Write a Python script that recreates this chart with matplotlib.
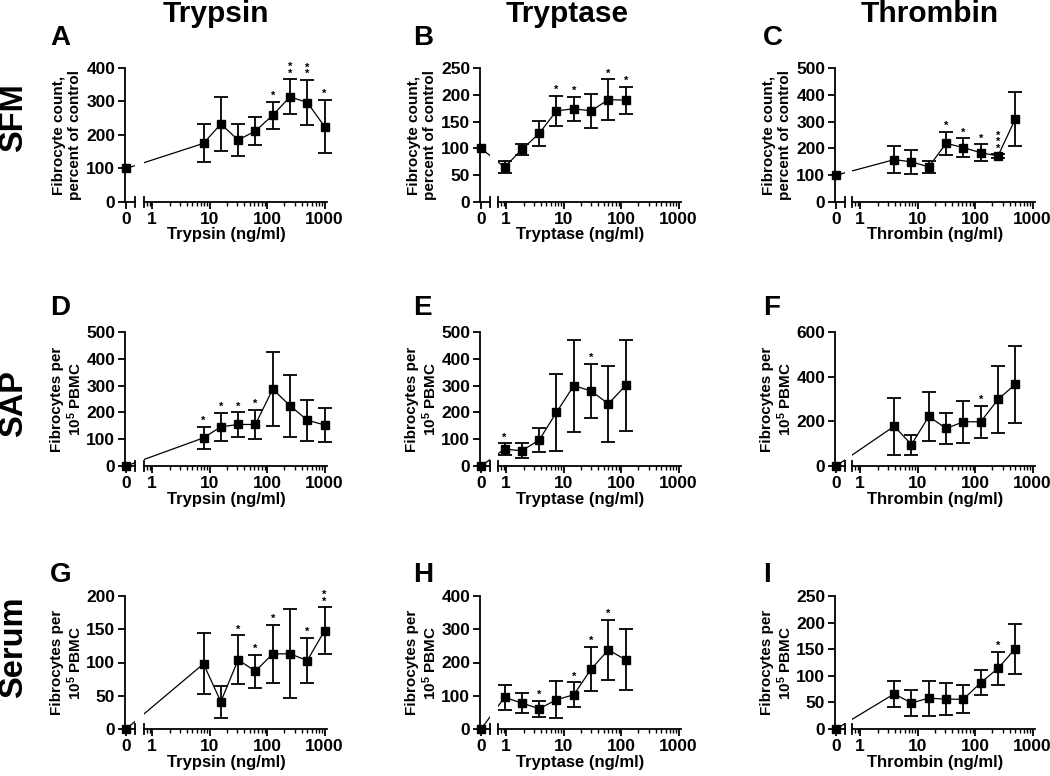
import numpy as np
import matplotlib
matplotlib.use("Agg")
import matplotlib.pyplot as plt
from matplotlib.ticker import FixedLocator, NullFormatter

plt.rcParams['font.family'] = ['Liberation Sans', 'DejaVu Sans']
plt.rcParams['font.weight'] = 'bold'
plt.rcParams['mathtext.fontset'] = 'custom'
plt.rcParams['mathtext.rm'] = 'Liberation Sans:bold'
plt.rcParams['mathtext.it'] = 'Liberation Sans:bold'
plt.rcParams['mathtext.bf'] = 'Liberation Sans:bold'

# ---------------- data ----------------
col_titles = ["Trypsin", "Tryptase", "Thrombin"]
row_titles = ["SFM", "SAP", "Serum"]
panel_letters = [["A", "B", "C"], ["D", "E", "F"], ["G", "H", "I"]]
x_labels = ["Trypsin (ng/ml)", "Tryptase (ng/ml)", "Thrombin (ng/ml)"]
y_labels = ["Fibrocyte count,\npercent of control",
            "Fibrocytes per\n10$^{5}$ PBMC",
            "Fibrocytes per\n10$^{5}$ PBMC"]

trypsin_conc = [7.8125, 15.625, 31.25, 62.5, 125, 250, 500, 1000]
tryptase_conc = [0.9375, 1.875, 3.75, 7.5, 15, 30, 60, 120]
thrombin_conc = [3.9, 7.8, 15.6, 31.25, 62.5, 125, 250, 500]
log_tick_labels = ["1", "10", "100", "1000"]

# SFM row (percent of control)
sfm_zero = [100, 100, 100]
sfm_trypsin_mean = [175, 233, 185, 212, 259, 314, 297, 225]
sfm_trypsin_sem = [57, 81, 47, 41, 40, 52, 68, 80]
sfm_trypsin_stars = ["", "", "", "", "*", "**", "**", "*"]
sfm_tryptase_mean = [65, 98, 128, 170, 174, 170, 191, 190]
sfm_tryptase_sem = [11, 11, 24, 28, 22, 32, 38, 25]
sfm_tryptase_stars = ["", "", "", "*", "*", "", "*", "*"]
sfm_thrombin_mean = [158, 150, 131, 219, 203, 184, 172, 310]
sfm_thrombin_sem = [50, 45, 22, 43, 34, 31, 6, 100]
sfm_thrombin_stars = ["", "", "", "*", "*", "*", "***", ""]

# SAP row (fibrocytes per 1e5 PBMC)
sap_zero = [0, 0, 0]
sap_trypsin_mean = [105, 146, 155, 155, 287, 225, 171, 153]
sap_trypsin_sem = [42, 53, 45, 55, 137, 115, 77, 63]
sap_trypsin_stars = ["*", "*", "*", "*", "", "", "", ""]
sap_tryptase_mean = [63, 57, 97, 200, 300, 280, 232, 301]
sap_tryptase_sem = [22, 28, 43, 145, 172, 102, 143, 170]
sap_tryptase_stars = ["*", "", "", "", "", "*", "", ""]
sap_thrombin_mean = [178, 96, 222, 168, 198, 198, 298, 366]
sap_thrombin_sem = [128, 45, 111, 68, 94, 72, 150, 172]
sap_thrombin_stars = ["", "", "", "", "", "*", "", ""]

# Serum row (fibrocytes per 1e5 PBMC)
serum_zero = [0, 0, 0]
serum_trypsin_mean = [98, 41, 104, 87, 113, 113, 103, 148]
serum_trypsin_sem = [46, 24, 37, 25, 44, 67, 34, 35]
serum_trypsin_stars = ["", "", "*", "*", "*", "", "*", "**"]
serum_tryptase_mean = [95, 78, 61, 88, 103, 180, 238, 208]
serum_tryptase_sem = [38, 30, 24, 55, 38, 67, 90, 92]
serum_tryptase_stars = ["", "", "*", "", "*", "*", "*", ""]
serum_thrombin_mean = [66, 49, 58, 56, 56, 87, 114, 151]
serum_thrombin_sem = [25, 25, 33, 30, 26, 24, 31, 47]
serum_thrombin_stars = ["", "", "", "", "", "", "*", ""]

y_max = [[400, 250, 500], [500, 500, 600], [200, 400, 250]]
y_step = [[100, 50, 100], [100, 100, 200], [50, 100, 50]]

concs = [trypsin_conc, tryptase_conc, thrombin_conc]
zeros = [sfm_zero, sap_zero, serum_zero]
means = [[sfm_trypsin_mean, sfm_tryptase_mean, sfm_thrombin_mean],
         [sap_trypsin_mean, sap_tryptase_mean, sap_thrombin_mean],
         [serum_trypsin_mean, serum_tryptase_mean, serum_thrombin_mean]]
sems = [[sfm_trypsin_sem, sfm_tryptase_sem, sfm_thrombin_sem],
        [sap_trypsin_sem, sap_tryptase_sem, sap_thrombin_sem],
        [serum_trypsin_sem, serum_tryptase_sem, serum_thrombin_sem]]
stars = [[sfm_trypsin_stars, sfm_tryptase_stars, sfm_thrombin_stars],
         [sap_trypsin_stars, sap_tryptase_stars, sap_thrombin_stars],
         [serum_trypsin_stars, serum_tryptase_stars, serum_thrombin_stars]]

# ---------------- layout ----------------
W, H = 1050, 776
fig = plt.figure(figsize=(W / 100, H / 100), dpi=100)

col_yaxis = [125, 480, 835]
col_logstart = [144, 498, 852]
log_w = 183
zero_w = 10
row_top = [68, 332, 596]
row_bot = [202, 466, 729]
zero_xlim = (-0.12, 1.0)
log_xlim = (0.72, 1100)

LW = 1.3


def rect(x0, x1, top, bot):
    return [x0 / W, 1 - bot / H, (x1 - x0) / W, (bot - top) / H]


def fx(x):
    return x / W


def fy(y):
    return 1 - y / H


for r in range(3):
    for c in range(3):
        top, bot = row_top[r], row_bot[r]
        ya = col_yaxis[c]
        ls = col_logstart[c]
        ax0 = fig.add_axes(rect(ya, ya + zero_w, top, bot))
        ax1 = fig.add_axes(rect(ls, ls + log_w, top, bot), sharey=ax0)
        ax1.set_xscale('log')
        ax0.set_xlim(*zero_xlim)
        ax1.set_xlim(*log_xlim)
        ax0.set_ylim(0, y_max[r][c])
        ax0.set_yticks(np.arange(0, y_max[r][c] + 1, y_step[r][c]))
        for a in (ax0, ax1):
            a.patch.set_visible(False)
            for s in ('top', 'right'):
                a.spines[s].set_visible(False)
            a.spines['bottom'].set_linewidth(LW)
            a.spines['left'].set_linewidth(LW)
            a.tick_params(axis='both', which='major', direction='out', length=5,
                          width=LW, labelsize=12.5, pad=2)
        ax1.spines['left'].set_visible(False)
        ax1.tick_params(axis='y', left=False, labelleft=False)
        ax0.set_xticks([0])
        ax0.set_xticklabels(["0"])
        ax0.xaxis.set_minor_locator(FixedLocator([]))
        dec = [1, 10, 100, 1000]
        ax1.xaxis.set_major_locator(FixedLocator(dec))
        ax1.set_xticklabels(log_tick_labels)
        minors = [m * d for d in [0.1, 1, 10, 100] for m in range(2, 10)
                  if log_xlim[0] < m * d < log_xlim[1]]
        ax1.xaxis.set_minor_locator(FixedLocator(minors))
        ax1.xaxis.set_minor_formatter(NullFormatter())
        ax1.tick_params(axis='x', which='minor', direction='out', length=3, width=1.0)

        # axis break marks
        ax0.plot([zero_xlim[1], zero_xlim[1]], [-0.035, 0.035], color='k', lw=LW,
                 transform=ax0.get_xaxis_transform(), clip_on=False)
        ax1.plot([log_xlim[0], log_xlim[0]], [-0.035, 0.035], color='k', lw=LW,
                 transform=ax1.get_xaxis_transform(), clip_on=False)

        conc = concs[c]
        m = means[r][c]
        e = sems[r][c]
        z = zeros[r][c]

        # convert between the two axes through their transforms
        first_in_ax0 = ax0.transData.inverted().transform(
            ax1.transData.transform((conc[0], m[0])))
        zero_in_ax1 = ax1.transData.inverted().transform(
            ax0.transData.transform((0, z)))

        ax0.plot([0, first_in_ax0[0]], [z, first_in_ax0[1]], color='k', lw=0.9)
        ax0.plot([0], [z], 's', color='k', ms=5.8, clip_on=False, zorder=5)
        ax1.plot([zero_in_ax1[0]] + list(conc), [zero_in_ax1[1]] + list(m),
                 color='k', lw=0.9)
        ax1.errorbar(conc, m, yerr=e, fmt='s', color='k', ms=5.8, ecolor='k',
                     elinewidth=1.3, capsize=5, capthick=1.3, clip_on=False, zorder=5)
        for xi, mi, ei, st in zip(conc, m, e, stars[r][c]):
            if st:
                txt = "\n".join(list(st))
                ax1.annotate(txt, xy=(xi, mi + ei), xytext=(0, 0.5),
                             textcoords='offset points', ha='center', va='bottom',
                             fontsize=8, linespacing=0.55, annotation_clip=False)

        # axis labels
        fig.text(fx((ya + ls + log_w) / 2), fy(bot + 33), x_labels[c],
                 ha='center', va='center', fontsize=12)
        fig.text(fx(ya - 58), fy((top + bot) / 2), y_labels[r], rotation=90,
                 ha='center', va='center', fontsize=11, linespacing=1.1)

# titles, letters, row labels
title_x = [216, 567, 930]
for c in range(3):
    fig.text(fx(title_x[c]), fy(22), col_titles[c], ha='center', va='baseline',
             fontsize=21.5)
letter_x = [50, 413, 763]
letter_base = [45, 315, 582]
for r in range(3):
    for c in range(3):
        fig.text(fx(letter_x[c]), fy(letter_base[r]), panel_letters[r][c],
                 ha='left', va='baseline', fontsize=20)
row_y = [118, 404, 647]
for r in range(3):
    fig.text(fx(14), fy(row_y[r]), row_titles[r], rotation=90, ha='center',
             va='center', fontsize=23.5)

fig.savefig("out.png", dpi=100)
